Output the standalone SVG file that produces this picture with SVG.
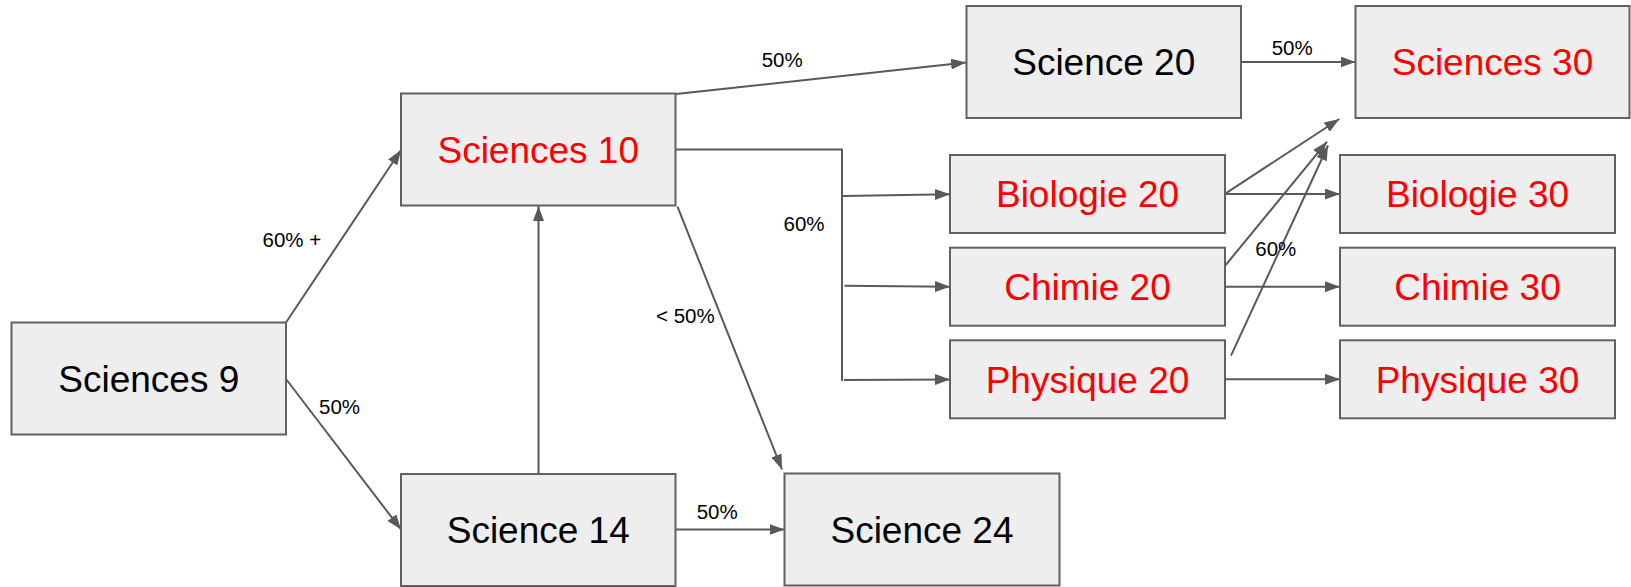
<svg xmlns="http://www.w3.org/2000/svg" width="1631" height="587" viewBox="0 0 1631 587">
<style>
.box{fill:#eeeeee;stroke:#616161;stroke-width:2}
.t{font-family:"Liberation Sans",Arial,sans-serif;font-size:37px;text-anchor:middle}
.red{fill:#ff0000}
.blk{fill:#000000}
.lbl{font-family:"Liberation Sans",Arial,sans-serif;font-size:20.5px;fill:#000000}
.c{fill:none;stroke:#595959;stroke-width:2}
.a{marker-end:url(#ah)}
</style>
<defs>
<marker id="ah" markerUnits="userSpaceOnUse" markerWidth="15" markerHeight="11" refX="15" refY="5.5" orient="auto">
<path d="M0,0 L15,5.5 L0,11 z" fill="#595959"/>
</marker>
</defs>
<rect width="1631" height="587" fill="#ffffff"/>
<g id="connectors">
<path class="c a" d="M286,322.5 L401,150"/>
<path class="c a" d="M286,379 L401,529.5"/>
<path class="c a" d="M538.5,474 L538.5,206"/>
<path class="c a" d="M676,94 L966,62.5"/>
<path class="c" d="M675.5,149.5 H842 V381"/>
<path class="c a" d="M843,196 L950,194.3"/>
<path class="c a" d="M844.5,285.7 L950,286.7"/>
<path class="c a" d="M844,380 L950,379.5"/>
<path class="c a" d="M677.5,206.7 L782,469.5"/>
<path class="c a" d="M675.5,529.5 L784.5,529.5"/>
<path class="c a" d="M1241,62 L1355.5,62"/>
<path class="c a" d="M1225,194 L1340,194"/>
<path class="c a" d="M1225,286.7 L1340,286.7"/>
<path class="c a" d="M1225,379.3 L1340,379.3"/>
<path class="c a" d="M1225.7,193.3 L1339.3,119"/>
<path class="c a" d="M1225.7,265 L1327,141.7"/>
<path class="c a" d="M1231,355.7 L1328,145.5"/>
<text class="lbl" x="262.5" y="246.7">60% +</text>
<text class="lbl" x="319" y="414">50%</text>
<text class="lbl" x="761.7" y="67">50%</text>
<text class="lbl" x="783.5" y="231">60%</text>
<text class="lbl" x="656" y="322.5">&lt; 50%</text>
<text class="lbl" x="696.7" y="519">50%</text>
<text class="lbl" x="1271.7" y="55">50%</text>
<text class="lbl" x="1255.3" y="256">60%</text>
</g>
<g id="sciences9">
<rect class="box" x="11.5" y="322.5" width="274.5" height="112"/>
<text class="t blk" x="148.75" y="391.8">Sciences 9</text>
</g>
<g id="sciences10">
<rect class="box" x="401" y="93.5" width="274.5" height="112"/>
<text class="t red" x="538.25" y="162.8">Sciences 10</text>
</g>
<g id="science14">
<rect class="box" x="401" y="474" width="274.5" height="112"/>
<text class="t blk" x="538.25" y="543.3">Science 14</text>
</g>
<g id="science24">
<rect class="box" x="784.5" y="473.5" width="275" height="112"/>
<text class="t blk" x="922" y="542.8">Science 24</text>
</g>
<g id="science20">
<rect class="box" x="966.5" y="6" width="274.5" height="112"/>
<text class="t blk" x="1103.75" y="75.3">Science 20</text>
</g>
<g id="sciences30">
<rect class="box" x="1355.5" y="6" width="274" height="112"/>
<text class="t red" x="1492.5" y="75.3">Sciences 30</text>
</g>
<g id="biologie20">
<rect class="box" x="950" y="155" width="275" height="78"/>
<text class="t red" x="1087.5" y="207.3">Biologie 20</text>
</g>
<g id="chimie20">
<rect class="box" x="950" y="247.7" width="275" height="78"/>
<text class="t red" x="1087.5" y="300">Chimie 20</text>
</g>
<g id="physique20">
<rect class="box" x="950" y="340.3" width="275" height="78"/>
<text class="t red" x="1087.5" y="392.6">Physique 20</text>
</g>
<g id="biologie30">
<rect class="box" x="1340" y="155" width="275" height="78"/>
<text class="t red" x="1477.5" y="207.3">Biologie 30</text>
</g>
<g id="chimie30">
<rect class="box" x="1340" y="247.7" width="275" height="78"/>
<text class="t red" x="1477.5" y="300">Chimie 30</text>
</g>
<g id="physique30">
<rect class="box" x="1340" y="340.3" width="275" height="78"/>
<text class="t red" x="1477.5" y="392.6">Physique 30</text>
</g>
</svg>
